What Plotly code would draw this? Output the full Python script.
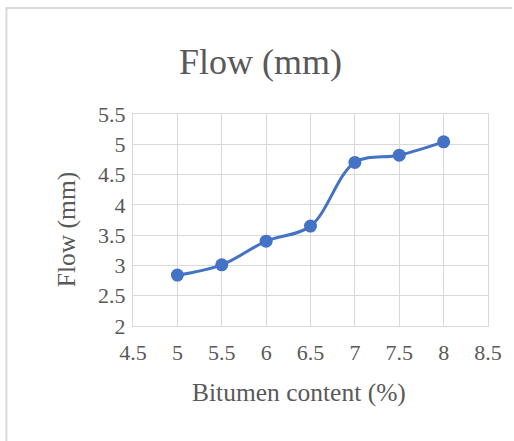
import plotly.graph_objects as go

bitumen = [5, 5.5, 6, 6.5, 7, 7.5, 8]
flow = [2.84, 3.01, 3.40, 3.65, 4.70, 4.82, 5.04]
x_ticks = [4.5, 5, 5.5, 6, 6.5, 7, 7.5, 8, 8.5]
y_ticks = [2, 2.5, 3, 3.5, 4, 4.5, 5, 5.5]

W, H = 514, 441
L, R, T, B = 133, 22, 114, 115
pw, ph = W - L - R, H - T - B

def px(x):
    return (x - L) / pw

def py(y):
    return (H - B - y) / ph

FONT = "Liberation Serif"
TXT = "#595959"
GRID = "#d9d9d9"

fig = go.Figure()
fig.add_trace(go.Scatter(
    x=bitumen, y=flow, mode="lines+markers",
    line=dict(color="#4472C4", width=3, shape="spline", smoothing=1.0),
    marker=dict(color="#4472C4", size=13),
    showlegend=False,
))

def axis(rng, ticks):
    return dict(
        range=rng, tickmode="array", tickvals=ticks,
        ticktext=[f"{v:g}" for v in ticks],
        showgrid=True, gridcolor=GRID, gridwidth=1.3,
        showline=True, linecolor=GRID, linewidth=1.3, mirror=True,
        zeroline=False, ticks="",
        tickfont=dict(family=FONT, size=22, color=TXT),
    )

xa = axis([4.5, 8.5], x_ticks)
xa["ticklabelstandoff"] = 6
ya = axis([2, 5.5], y_ticks)
ya["ticklabelstandoff"] = 2

fig.update_layout(
    width=W, height=H,
    font=dict(family=FONT, size=22, color=TXT),
    xaxis=xa, yaxis=ya,
    margin=dict(l=L, r=R, t=T, b=B),
    paper_bgcolor="white", plot_bgcolor="white",
    annotations=[
        dict(text="Flow (mm)", xref="paper", yref="paper",
             x=px(261.5), y=py(62), xanchor="center", yanchor="middle",
             showarrow=False, font=dict(family=FONT, size=36, color=TXT)),
        dict(text="Bitumen content (%)", xref="paper", yref="paper",
             x=px(300.5), y=py(392), xanchor="center", yanchor="middle",
             showarrow=False, font=dict(family=FONT, size=25.5, color=TXT)),
        dict(text="Flow (mm)", xref="paper", yref="paper", textangle=-90,
             x=px(65.5), y=py(230), xanchor="center", yanchor="middle",
             showarrow=False, font=dict(family=FONT, size=25.5, color=TXT)),
    ],
    shapes=[
        dict(type="path", xref="paper", yref="paper",
             path=f"M {px(5)} {py(445)} L {px(5)} {py(8)} L {px(516)} {py(8)}",
             line=dict(color=GRID, width=2)),
    ],
)

fig.write_html("out.html")
